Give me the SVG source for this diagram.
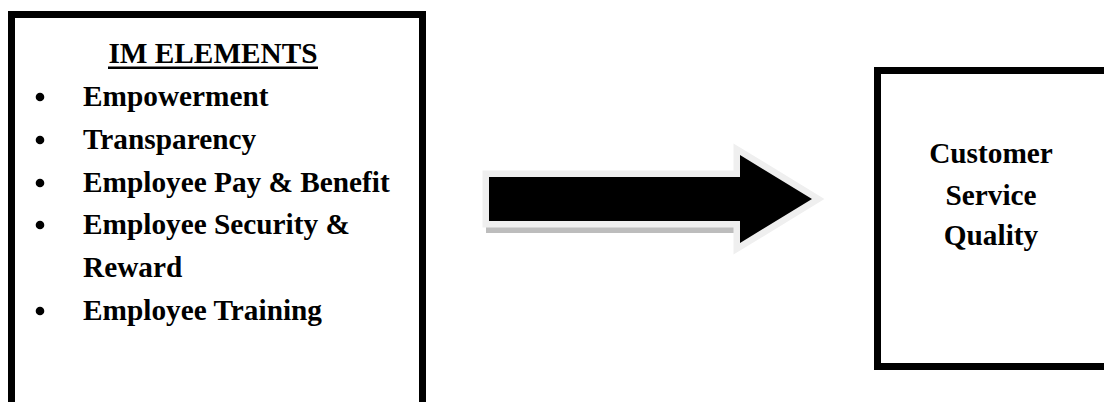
<svg xmlns="http://www.w3.org/2000/svg" width="1104" height="402" viewBox="0 0 1104 402">
<style>
.box{fill:#fff;stroke:#000;stroke-width:7}
.t{font-family:"Liberation Serif","Times New Roman",serif;font-weight:bold;font-size:29.3px;fill:#000}
.c{text-anchor:middle}
</style>
<rect width="1104" height="402" fill="#fff"/>
<g id="im-elements">
<rect class="box" x="11.5" y="14.5" width="411" height="420"/>
<text class="t c" x="213" y="63">IM ELEMENTS</text>
<rect x="108" y="66.5" width="210" height="2.5" fill="#000"/>
<g fill="#000">
<circle cx="40" cy="97" r="4.3"/>
<circle cx="40" cy="140" r="4.3"/>
<circle cx="40" cy="183" r="4.3"/>
<circle cx="40" cy="225" r="4.3"/>
<circle cx="40" cy="311" r="4.3"/>
</g>
<text class="t" x="83" y="106">Empowerment</text>
<text class="t" x="83" y="149">Transparency</text>
<text class="t" x="83" y="192">Employee Pay &amp; Benefit</text>
<text class="t" x="83" y="234">Employee Security &amp;</text>
<text class="t" x="83" y="277">Reward</text>
<text class="t" x="83" y="320">Employee Training</text>
</g>
<g id="connectors">
<path d="M486,176 H743 V159 L817,201 L743,243 V233 H486 Z" fill="#bdbdbd"/>
<path d="M489,177 H740 V155 L812,199 L740,243 V221 H489 Z" fill="#000" stroke="#efefef" stroke-width="13" stroke-linejoin="miter"/>
<path d="M489,177 H740 V155 L812,199 L740,243 V221 H489 Z" fill="#000"/>
</g>
<g id="customer-service-quality">
<rect class="box" x="877.5" y="70.5" width="260" height="296"/>
<text class="t c" x="991" y="163">Customer</text>
<text class="t c" x="991" y="205">Service</text>
<text class="t c" x="991" y="245">Quality</text>
</g>
</svg>
